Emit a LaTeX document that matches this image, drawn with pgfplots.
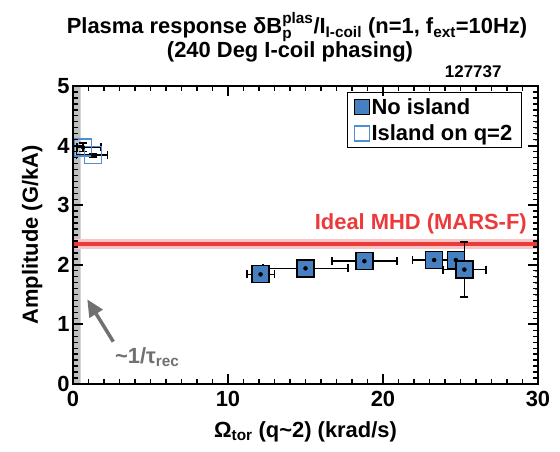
\documentclass[border=0pt]{standalone}
\usepackage{amsmath}
\usepackage{fontspec}
\setmainfont{Liberation Sans}
\usepackage{pgfplots}
\pgfplotsset{compat=1.18}
\usepackage{pgfplotstable}
\usetikzlibrary{arrows.meta}

\definecolor{boxblue}{RGB}{70,128,192}
\definecolor{edgeblue}{RGB}{80,142,212}
\definecolor{mhdred}{RGB}{236,58,58}
\definecolor{bandgray}{RGB}{190,190,190}
\definecolor{notegray}{RGB}{112,112,112}

\newcommand{\bigf}{\fontsize{22}{24}\selectfont\bfseries}

% no island: omega, amplitude, errors
\pgfplotstableread{
x      y     dx    dy
12.1   1.84  0.89  0.05
15.0   1.94  2.74  0.04
18.8   2.06  2.10  0.07
23.3   2.08  1.40  0.09
24.7   2.08  0.40  0.08
25.25  1.92  1.38  0.46
}\noisland

% island on q=2
\pgfplotstableread{
x      y     dxp   dxm   dy
0.65   3.97  1.15  0.40  0.07
1.29   3.84  0.95  1.05  0.03
}\island

\begin{document}
\begin{tikzpicture}
\path (-73bp,-68bp) rectangle (487bp,384bp);
\begin{axis}[
    at={(0,0)}, anchor=origin,
    scale only axis,
    width=465bp, height=298bp,
    xmin=0, xmax=30, ymin=0, ymax=5,
    xtick={0,10,20,30}, ytick={0,1,2,3,4,5},
    minor x tick num=9, minor y tick num=9,
    /pgf/number format/assume math mode=true,
    tick label style={font=\bigf},
    xticklabel style={yshift=-4bp},
    xlabel={\bigf Ω$_{\text{\bfseries tor}}$ (q\textasciitilde 2) (krad/s)},
    ylabel={\bigf Amplitude (G/kA)},
    xlabel style={yshift=-8bp},
    ylabel style={yshift=8bp},
    legend style={at={(0.965,0.981)}, anchor=north east, draw=black,
        line width=1bp, font=\bigf, inner xsep=7bp, inner ysep=4bp,
        row sep=5bp, cells={anchor=west},
        /tikz/every even column/.append style={column sep=8bp}},
    legend image post style={mark size=7.5bp},
    legend cell align=left,
]
\addplot[fill=bandgray, draw=none, forget plot]
    coordinates {(0,0) (0.5,0) (0.5,5) (0,5)} \closedcycle;
\addplot[mhdred!30, line width=10bp, forget plot] coordinates {(0,2.35) (30,2.35)};
\addplot[mhdred, line width=4.5bp, forget plot] coordinates {(0,2.35) (30,2.35)};

\addplot[only marks, mark=square*, mark size=8.5bp,
    mark options={fill=boxblue, draw=black, line width=1.3bp}]
    table[x=x, y=y] {\noisland};
\addlegendentry{No island}
\addplot[only marks, mark=square, mark size=8.5bp,
    mark options={draw=edgeblue, fill=none, line width=1.6bp}]
    table[x=x, y=y] {\island};
\addlegendentry{Island on q=2}

\addplot[black, only marks, mark=none, forget plot,
    error bars/.cd, x dir=both, x explicit, y dir=both, y explicit,
    error bar style={black, line width=1.5pt},
    error mark options={rotate=90, black, line width=1.5pt, mark size=4pt}]
    table[x=x, y=y, x error=dx, y error=dy] {\noisland};
\addplot[black, only marks, mark=none, forget plot,
    error bars/.cd, x dir=both, x explicit, y dir=both, y explicit,
    error bar style={black, line width=1.5pt},
    error mark options={rotate=90, black, line width=1.5pt, mark size=4pt}]
    table[x=x, y=y, x error plus=dxp, x error minus=dxm, y error=dy] {\island};

\node[anchor=base east, text=mhdred, font=\bigf]
    at (axis cs:29.5,2.6) {Ideal MHD (MARS-F)};
\draw[notegray, line width=3.5bp, -{Triangle[length=17bp, width=15bp]}]
    (axis cs:2.6,0.71) -- (axis cs:0.92,1.42);
\node[anchor=base west, text=notegray, font=\bigf, inner sep=0pt]
    at (axis cs:2.7,0.35) {\textasciitilde 1/τ$_{\text{\bfseries rec}}$};
\end{axis}

% heavier inward ticks, drawn as thin filled bars
\foreach \i in {1,...,29}{
    \fill[black] ({\i*15.5bp-0.7bp},0) rectangle ++(1.4bp,5bp);
    \fill[black] ({\i*15.5bp-0.7bp},298bp) rectangle ++(1.4bp,-5bp);}
\foreach \i in {1,2}{
    \fill[black] ({\i*155bp-1bp},0) rectangle ++(2bp,10bp);
    \fill[black] ({\i*155bp-1bp},298bp) rectangle ++(2bp,-10bp);}
\foreach \i in {1,...,49}{
    \fill[black] (0,{\i*5.96bp-0.7bp}) rectangle ++(5bp,1.4bp);
    \fill[black] (465bp,{\i*5.96bp-0.7bp}) rectangle ++(-5bp,1.4bp);}
\foreach \i in {1,...,4}{
    \fill[black] (0,{\i*59.6bp-1bp}) rectangle ++(10bp,2bp);
    \fill[black] (465bp,{\i*59.6bp-1bp}) rectangle ++(-10bp,2bp);}
\draw[line width=2bp] (0,0) rectangle (465bp,298bp);

\node[anchor=base, font=\bigf] at (224bp,350bp)
    {Plasma response δB$^{\text{\bfseries plas}}_{\text{\bfseries p}}$/I$_{\text{\bfseries I-coil}}$ (n=1, f$_{\text{\bfseries ext}}$=10Hz)};
\node[anchor=base, font=\bigf] at (217bp,326bp)
    {(240 Deg I-coil phasing)};
\node[anchor=base east, font=\fontsize{17}{19}\selectfont\bfseries]
    at (432bp,306bp) {127737};
\end{tikzpicture}
\end{document}
